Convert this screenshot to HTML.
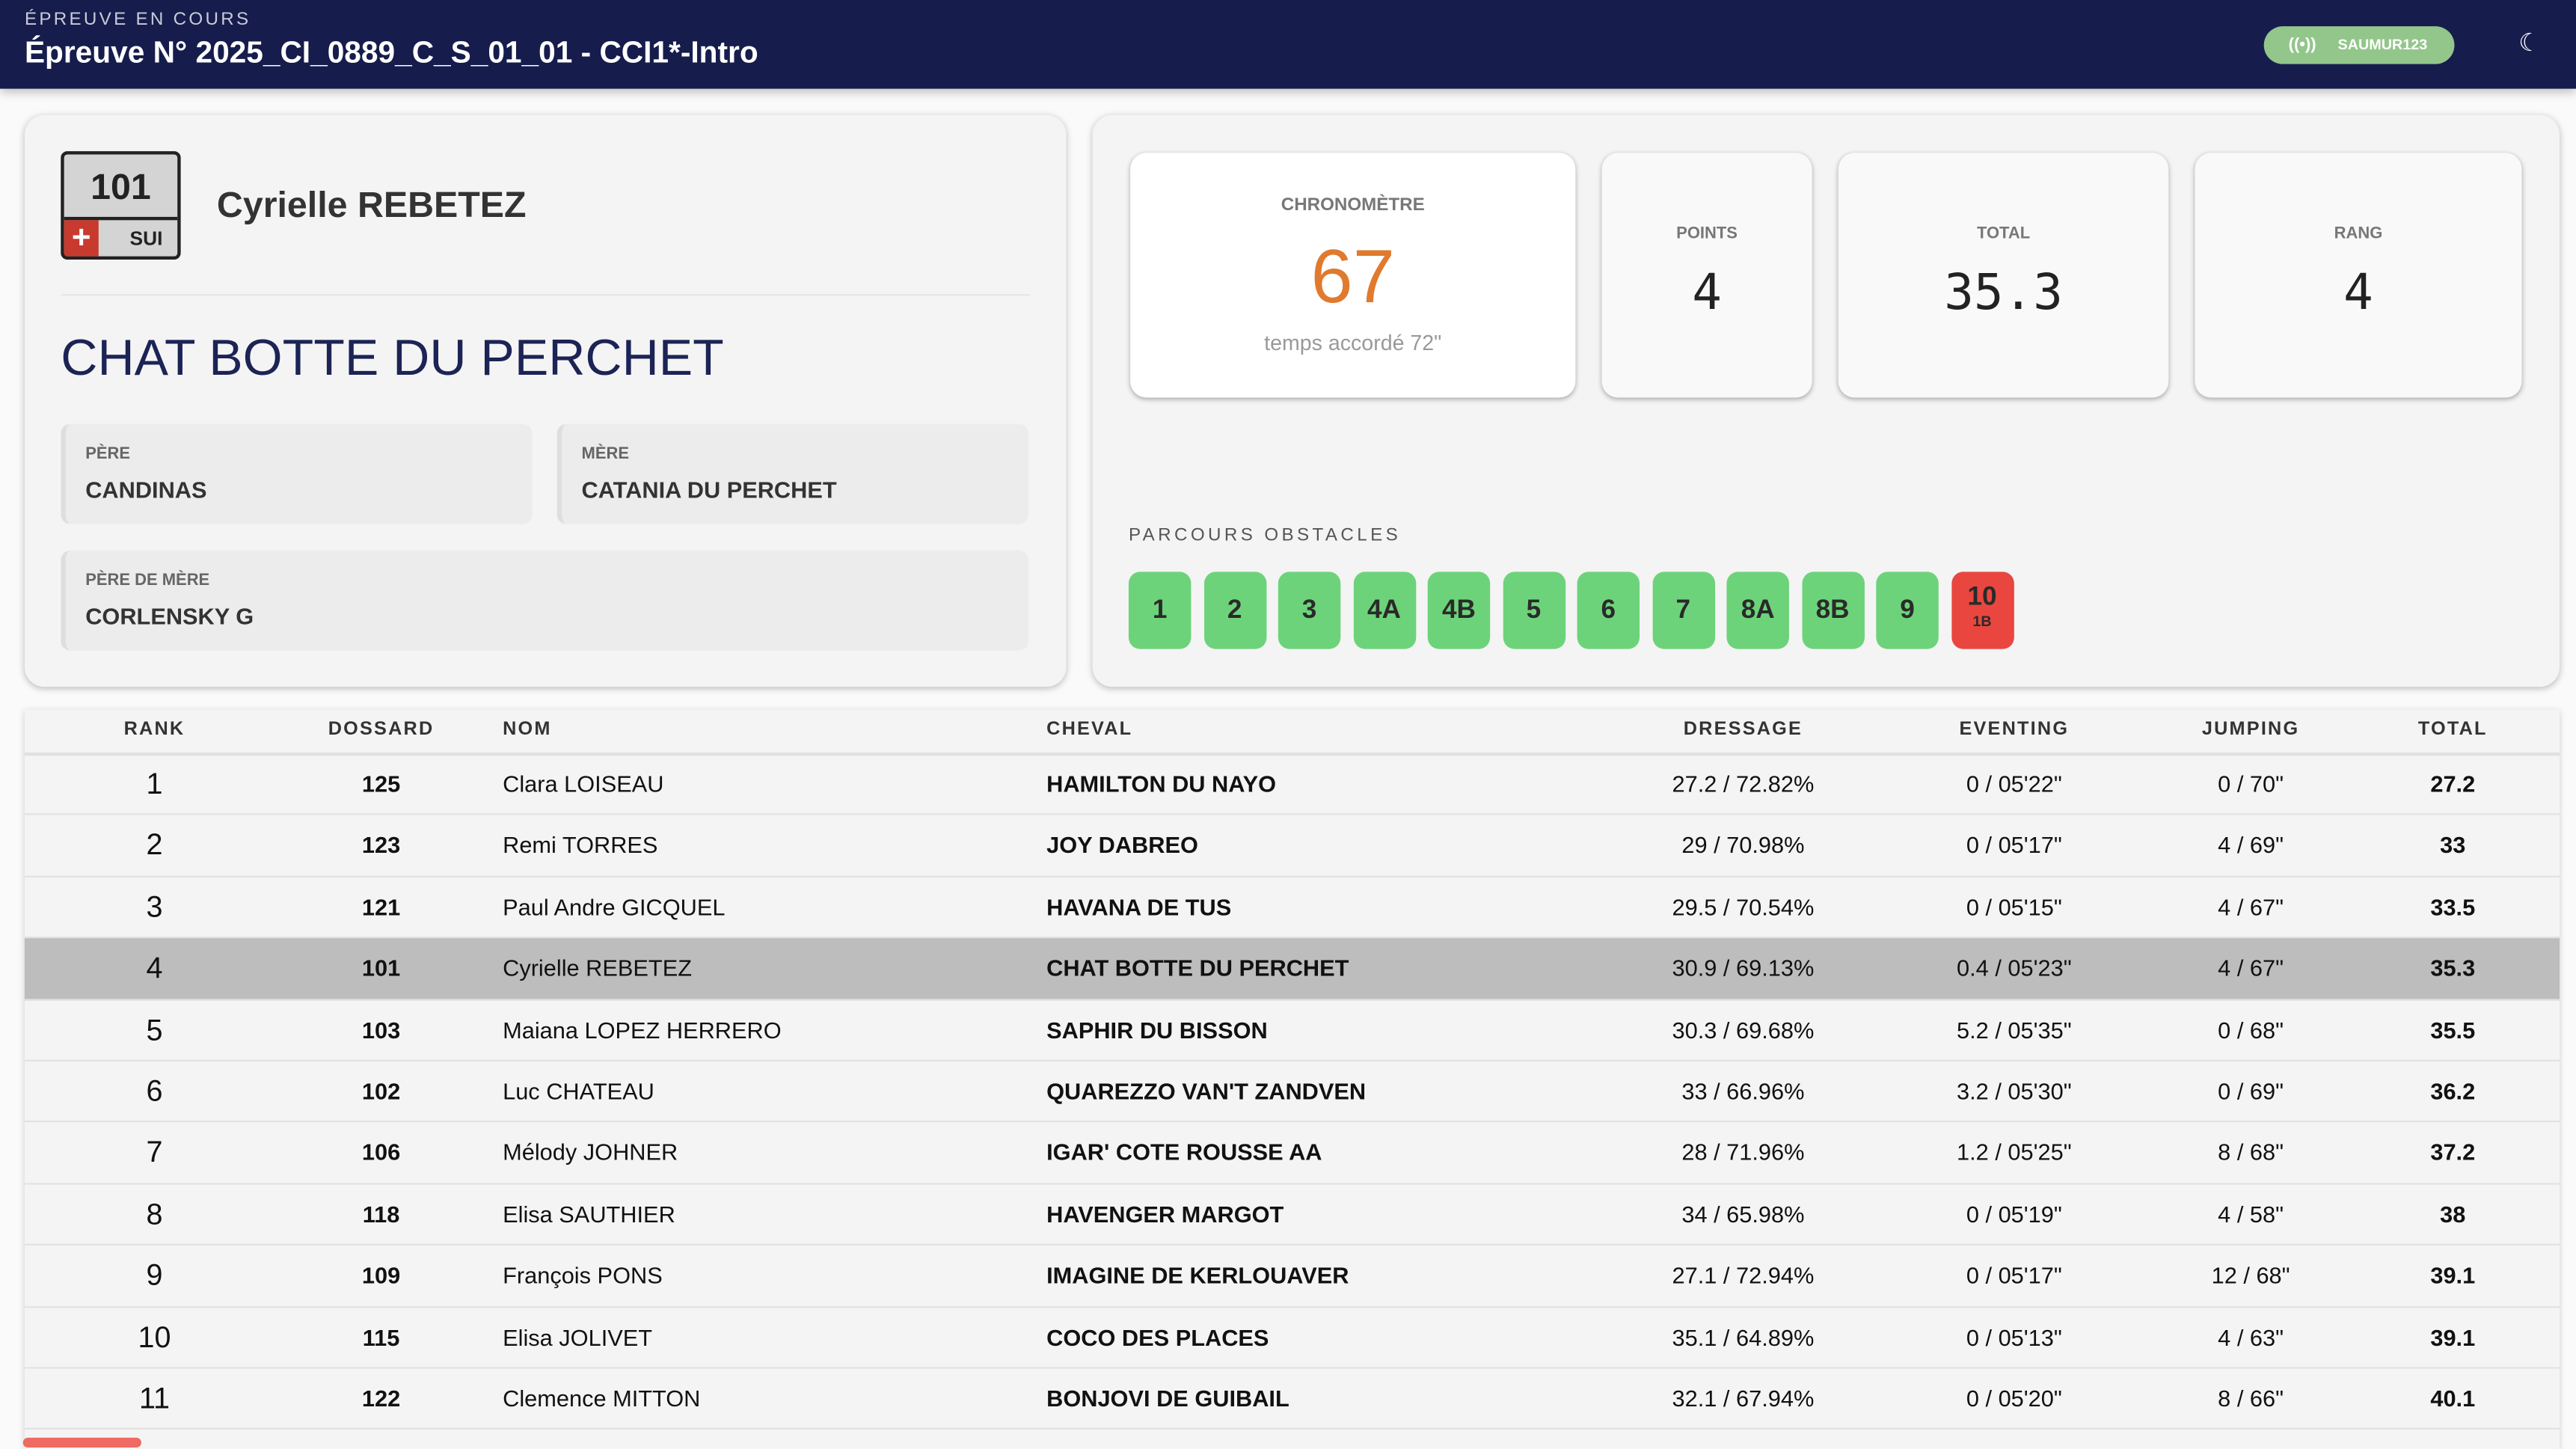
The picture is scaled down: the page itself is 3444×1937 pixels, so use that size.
<!DOCTYPE html>
<html><head><meta charset="utf-8"><style>
*{box-sizing:border-box;margin:0;padding:0}
html,body{width:3444px;height:1926px;overflow:hidden;background:#fafafa}
#w{position:absolute;left:0;top:0;width:1568px;height:877px;transform:scale(2.19643);transform-origin:0 0;font-family:"Liberation Sans",sans-serif;color:#222}
.a{position:absolute}
.hdr{left:0;top:0;width:1568px;height:54px;background:#161d4d;box-shadow:0 2px 6px rgba(0,0,0,.25)}
.card{background:#f4f4f4;border-radius:12px;box-shadow:0 1px 4px rgba(0,0,0,.25)}
.box{background:#ececec;border-radius:6px;border-left:3px solid #dedede}
.lbl{font-size:10px;font-weight:bold;color:#666;position:absolute;left:12px;top:13px}
.val{font-size:14px;font-weight:bold;color:#333;position:absolute;left:12px;top:32px}
.stat{background:#f9f9f9;border-radius:10px;box-shadow:0 1px 3px rgba(0,0,0,.3);text-align:center}
.stat .t{position:absolute;left:0;right:0;top:44px;font-size:10px;font-weight:bold;color:#777}
.stat .v{position:absolute;left:0;right:0;top:68px;font-size:30px;color:#222;font-family:"DejaVu Sans Mono","Liberation Mono",monospace}
.ob{width:38px;height:47px;top:348px;background:#6dd37a;border-radius:7px;font-weight:bold;font-size:16px;color:#2a2a2a;text-align:center;line-height:47px}
.row{position:absolute;left:15px;width:1543px;height:37.4px;border-bottom:1px solid #e2e2e2;font-size:14px;color:#111}
.row span{position:absolute;top:0;line-height:37px;white-space:nowrap}
.c{transform:translateX(-50%)}
.th{position:absolute;top:438px;font-size:11.5px;font-weight:bold;letter-spacing:1px;color:#333}
</style></head><body><div id="w">
<div class="a hdr"></div>
<div class="a" style="left:15px;top:6px;font-size:11px;letter-spacing:1.5px;color:#c9cbd8">ÉPREUVE EN COURS</div>
<div class="a" style="left:15px;top:21px;font-size:18.5px;font-weight:bold;color:#fff">Épreuve N° 2025_CI_0889_C_S_01_01 - CCI1*-Intro</div>
<div class="a" style="left:1378px;top:16px;width:116px;height:23px;background:#93c68b;border-radius:12px;color:#fff;font-size:9px;font-weight:bold;line-height:23px"><span style="position:absolute;left:15px;font-size:10px">((•))</span><span style="position:absolute;left:45px">SAUMUR123</span></div>
<div class="a" style="left:1533px;top:17px;font-size:15px;color:#fff">☾</div>

<div class="a card" style="left:15px;top:70px;width:634px;height:348px"></div>
<div class="a" style="left:37px;top:92px;width:73px;height:66px;border:2px solid #222;border-radius:4px;background:#d4d4d4;overflow:hidden">
 <div class="a" style="left:0;right:0;top:7px;text-align:center;font-size:22px;font-weight:bold;color:#222">101</div>
 <div class="a" style="left:0;right:0;top:38px;height:2px;background:#222"></div>
 <div class="a" style="left:0;top:40px;width:21px;height:24px;background:#c83a2e;color:#fff;font-weight:bold;font-size:20px;text-align:center;line-height:22px">+</div>
 <div class="a" style="left:40px;top:44px;font-size:12px;font-weight:bold;color:#222">SUI</div>
</div>
<div class="a" style="left:132px;top:112px;font-size:22px;font-weight:bold;color:#333">Cyrielle REBETEZ</div>
<div class="a" style="left:37px;top:179px;width:590px;height:1px;background:#e6e6e6"></div>
<div class="a" style="left:37px;top:200px;font-size:31px;color:#1c2355">CHAT BOTTE DU PERCHET</div>
<div class="a box" style="left:37px;top:258px;width:287px;height:61px"><div class="lbl">PÈRE</div><div class="val">CANDINAS</div></div>
<div class="a box" style="left:339px;top:258px;width:287px;height:61px"><div class="lbl">MÈRE</div><div class="val">CATANIA DU PERCHET</div></div>
<div class="a box" style="left:37px;top:335px;width:589px;height:61px"><div class="lbl">PÈRE DE MÈRE</div><div class="val">CORLENSKY G</div></div>

<div class="a card" style="left:665px;top:70px;width:893px;height:348px"></div>
<div class="a stat" style="left:688px;top:93px;width:271px;height:149px;background:#fff"><div class="t" style="top:26px;font-size:11px">CHRONOMÈTRE</div><div class="a" style="left:0;right:0;top:48px;font-size:46px;color:#e07a2e">67</div><div class="a" style="left:0;right:0;top:108px;font-size:13px;color:#999">temps accordé 72"</div></div>
<div class="a stat" style="left:975px;top:93px;width:128px;height:149px"><div class="t">POINTS</div><div class="v">4</div></div>
<div class="a stat" style="left:1119px;top:93px;width:201px;height:149px"><div class="t">TOTAL</div><div class="v">35.3</div></div>
<div class="a stat" style="left:1336px;top:93px;width:199px;height:149px"><div class="t">RANG</div><div class="v">4</div></div>
<div class="a" style="left:687px;top:320px;font-size:11px;letter-spacing:2px;color:#555">PARCOURS OBSTACLES</div>
<div class="a ob" style="left:687px">1</div><div class="a ob" style="left:732.5px">2</div><div class="a ob" style="left:778px">3</div><div class="a ob" style="left:823.5px">4A</div><div class="a ob" style="left:869px">4B</div><div class="a ob" style="left:914.5px">5</div><div class="a ob" style="left:960px">6</div><div class="a ob" style="left:1005.5px">7</div><div class="a ob" style="left:1051px">8A</div><div class="a ob" style="left:1096.5px">8B</div><div class="a ob" style="left:1142px">9</div>
<div class="a ob" style="left:1187.5px;background:#e9463f;line-height:normal"><div style="margin-top:7px;font-size:16px">10</div><div style="font-size:9px">1B</div></div>

<div class="a" style="left:15px;top:432px;width:1543px;height:450px;background:#f4f4f4;box-shadow:0 1px 4px rgba(0,0,0,.2)"></div>
<div class="a" style="left:15px;top:458px;width:1543px;height:2px;background:#e0e0e0"></div>
<span class="th c" style="left:94px">RANK</span><span class="th c" style="left:232px">DOSSARD</span><span class="th" style="left:306px">NOM</span><span class="th" style="left:637px">CHEVAL</span><span class="th c" style="left:1061px">DRESSAGE</span><span class="th c" style="left:1226px">EVENTING</span><span class="th c" style="left:1370px">JUMPING</span><span class="th c" style="left:1493px">TOTAL</span>

<div class="row" style="top:459px"><span class="c" style="left:79px;font-size:18px">1</span><span class="c" style="left:217px;font-weight:bold">125</span><span style="left:291px">Clara LOISEAU</span><span style="left:622px;font-weight:bold">HAMILTON DU NAYO</span><span class="c" style="left:1046px">27.2 / 72.82%</span><span class="c" style="left:1211px">0 / 05'22"</span><span class="c" style="left:1355px">0 / 70"</span><span class="c" style="left:1478px;font-weight:bold">27.2</span></div>
<div class="row" style="top:496.4px"><span class="c" style="left:79px;font-size:18px">2</span><span class="c" style="left:217px;font-weight:bold">123</span><span style="left:291px">Remi TORRES</span><span style="left:622px;font-weight:bold">JOY DABREO</span><span class="c" style="left:1046px">29 / 70.98%</span><span class="c" style="left:1211px">0 / 05'17"</span><span class="c" style="left:1355px">4 / 69"</span><span class="c" style="left:1478px;font-weight:bold">33</span></div>
<div class="row" style="top:533.8px"><span class="c" style="left:79px;font-size:18px">3</span><span class="c" style="left:217px;font-weight:bold">121</span><span style="left:291px">Paul Andre GICQUEL</span><span style="left:622px;font-weight:bold">HAVANA DE TUS</span><span class="c" style="left:1046px">29.5 / 70.54%</span><span class="c" style="left:1211px">0 / 05'15"</span><span class="c" style="left:1355px">4 / 67"</span><span class="c" style="left:1478px;font-weight:bold">33.5</span></div>
<div class="row" style="top:571.2px;background:#bdbdbd"><span class="c" style="left:79px;font-size:18px">4</span><span class="c" style="left:217px;font-weight:bold">101</span><span style="left:291px">Cyrielle REBETEZ</span><span style="left:622px;font-weight:bold">CHAT BOTTE DU PERCHET</span><span class="c" style="left:1046px">30.9 / 69.13%</span><span class="c" style="left:1211px">0.4 / 05'23"</span><span class="c" style="left:1355px">4 / 67"</span><span class="c" style="left:1478px;font-weight:bold">35.3</span></div>
<div class="row" style="top:608.6px"><span class="c" style="left:79px;font-size:18px">5</span><span class="c" style="left:217px;font-weight:bold">103</span><span style="left:291px">Maiana LOPEZ HERRERO</span><span style="left:622px;font-weight:bold">SAPHIR DU BISSON</span><span class="c" style="left:1046px">30.3 / 69.68%</span><span class="c" style="left:1211px">5.2 / 05'35"</span><span class="c" style="left:1355px">0 / 68"</span><span class="c" style="left:1478px;font-weight:bold">35.5</span></div>
<div class="row" style="top:646px"><span class="c" style="left:79px;font-size:18px">6</span><span class="c" style="left:217px;font-weight:bold">102</span><span style="left:291px">Luc CHATEAU</span><span style="left:622px;font-weight:bold">QUAREZZO VAN'T ZANDVEN</span><span class="c" style="left:1046px">33 / 66.96%</span><span class="c" style="left:1211px">3.2 / 05'30"</span><span class="c" style="left:1355px">0 / 69"</span><span class="c" style="left:1478px;font-weight:bold">36.2</span></div>
<div class="row" style="top:683.4px"><span class="c" style="left:79px;font-size:18px">7</span><span class="c" style="left:217px;font-weight:bold">106</span><span style="left:291px">Mélody JOHNER</span><span style="left:622px;font-weight:bold">IGAR' COTE ROUSSE AA</span><span class="c" style="left:1046px">28 / 71.96%</span><span class="c" style="left:1211px">1.2 / 05'25"</span><span class="c" style="left:1355px">8 / 68"</span><span class="c" style="left:1478px;font-weight:bold">37.2</span></div>
<div class="row" style="top:720.8px"><span class="c" style="left:79px;font-size:18px">8</span><span class="c" style="left:217px;font-weight:bold">118</span><span style="left:291px">Elisa SAUTHIER</span><span style="left:622px;font-weight:bold">HAVENGER MARGOT</span><span class="c" style="left:1046px">34 / 65.98%</span><span class="c" style="left:1211px">0 / 05'19"</span><span class="c" style="left:1355px">4 / 58"</span><span class="c" style="left:1478px;font-weight:bold">38</span></div>
<div class="row" style="top:758.2px"><span class="c" style="left:79px;font-size:18px">9</span><span class="c" style="left:217px;font-weight:bold">109</span><span style="left:291px">François PONS</span><span style="left:622px;font-weight:bold">IMAGINE DE KERLOUAVER</span><span class="c" style="left:1046px">27.1 / 72.94%</span><span class="c" style="left:1211px">0 / 05'17"</span><span class="c" style="left:1355px">12 / 68"</span><span class="c" style="left:1478px;font-weight:bold">39.1</span></div>
<div class="row" style="top:795.6px"><span class="c" style="left:79px;font-size:18px">10</span><span class="c" style="left:217px;font-weight:bold">115</span><span style="left:291px">Elisa JOLIVET</span><span style="left:622px;font-weight:bold">COCO DES PLACES</span><span class="c" style="left:1046px">35.1 / 64.89%</span><span class="c" style="left:1211px">0 / 05'13"</span><span class="c" style="left:1355px">4 / 63"</span><span class="c" style="left:1478px;font-weight:bold">39.1</span></div>
<div class="row" style="top:833px"><span class="c" style="left:79px;font-size:18px">11</span><span class="c" style="left:217px;font-weight:bold">122</span><span style="left:291px">Clemence MITTON</span><span style="left:622px;font-weight:bold">BONJOVI DE GUIBAIL</span><span class="c" style="left:1046px">32.1 / 67.94%</span><span class="c" style="left:1211px">0 / 05'20"</span><span class="c" style="left:1355px">8 / 66"</span><span class="c" style="left:1478px;font-weight:bold">40.1</span></div>
<div class="a" style="left:14px;top:875px;width:72px;height:6px;background:#ee6a62;border-radius:3px"></div>
</div></body></html>
